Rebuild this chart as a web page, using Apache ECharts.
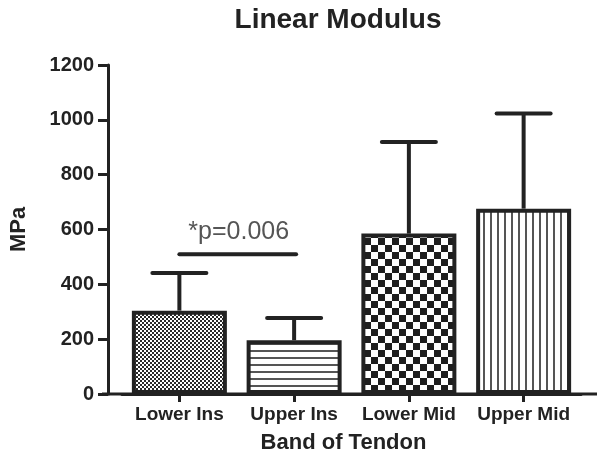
<!DOCTYPE html>
<html><head><meta charset="utf-8">
<script src="https://cdn.jsdelivr.net/npm/echarts@6/dist/echarts.min.js"></script>
<style>html,body{margin:0;padding:0;background:#fff}#c{width:600px;height:460px}</style>
</head><body><div id="c"></div>
<script>
// ---- data ----
const categories = ['Lower Ins', 'Upper Ins', 'Lower Mid', 'Upper Mid'];
const means = [304, 196, 585, 676];
const errTops = [441, 277, 919, 1023];
const yTicks = [0, 200, 400, 600, 800, 1000, 1200];
const sigFrom = 0, sigTo = 1, sigLevel = 510, sigText = '*p=0.006';

// ---- patterns ----
function pattern(kind) {
  const c = document.createElement('canvas');
  let g;
  if (kind === 'fine') {
    c.width = 4; c.height = 4; g = c.getContext('2d');
    g.fillStyle = '#fff'; g.fillRect(0, 0, 4, 4);
    g.fillStyle = '#2a2a2a'; g.fillRect(0, 0, 2, 2); g.fillRect(2, 2, 2, 2);
  } else if (kind === 'hlines') {
    c.width = 8; c.height = 7; g = c.getContext('2d');
    g.fillStyle = '#fff'; g.fillRect(0, 0, 8, 7);
    g.fillStyle = '#555'; g.fillRect(0, 0, 8, 2);
  } else if (kind === 'checker') {
    c.width = 14; c.height = 14; g = c.getContext('2d');
    g.fillStyle = '#fff'; g.fillRect(0, 0, 14, 14);
    g.fillStyle = '#1e1e1e'; g.fillRect(0, 0, 7, 7); g.fillRect(7, 7, 7, 7);
  } else {
    c.width = 7; c.height = 8; g = c.getContext('2d');
    g.fillStyle = '#fff'; g.fillRect(0, 0, 7, 8);
    g.fillStyle = '#555'; g.fillRect(0, 0, 2, 8);
  }
  return { image: c, repeat: 'repeat' };
}
const patterns = [pattern('fine'), pattern('hlines'), pattern('checker'), pattern('vlines')];

const dark = '#222';
const font = 'Arial, "Liberation Sans", sans-serif';
const gridLeft = 116, gridRight = 19, yOffset = 14;

const chart = echarts.init(document.getElementById('c'), null, { renderer: 'canvas' });
chart.setOption({
  animation: false,
  backgroundColor: '#fff',
  title: {
    text: 'Linear Modulus', left: 333, top: 1, textAlign: 'center',
    textStyle: { fontFamily: font, fontWeight: 'bold', fontSize: 28, color: dark }
  },
  grid: { left: gridLeft, right: gridRight, top: 65, bottom: 66 },
  xAxis: {
    type: 'category', data: categories,
    axisLine: { show: true, lineStyle: { color: dark, width: 3 } },
    axisTick: { show: true, alignWithLabel: true, length: 8, lineStyle: { color: dark, width: 3 } },
    axisLabel: { interval: 0, fontFamily: font, fontWeight: 'bold', fontSize: 19, color: dark, margin: 11 },
    name: 'Band of Tendon', nameLocation: 'middle', nameGap: 38,
    nameTextStyle: { fontFamily: font, fontWeight: 'bold', fontSize: 22, color: dark, padding: [0, 16, 0, 0] }
  },
  yAxis: {
    type: 'value', min: yTicks[0], max: yTicks[yTicks.length - 1], interval: 200,
    offset: yOffset,
    axisLine: { show: true, lineStyle: { color: dark, width: 3 } },
    axisTick: { show: true, length: 10, lineStyle: { color: dark, width: 3 } },
    axisLabel: { fontFamily: font, fontWeight: 'bold', fontSize: 20, color: dark, margin: 14, formatter: v => String(v) },
    splitLine: { show: false },
    name: 'MPa', nameLocation: 'middle', nameGap: 78, nameRotate: 90,
    nameTextStyle: { fontFamily: font, fontWeight: 'bold', fontSize: 22, color: dark }
  },
  series: [
    {
      type: 'bar', barWidth: 95,
      data: means.map((v, i) => ({
        value: v,
        itemStyle: { color: patterns[i], borderColor: dark, borderWidth: 4 }
      }))
    },
    {
      type: 'custom', z: 1,
      data: means.map((v, i) => [i, v, errTops[i]]),
      renderItem: function (params, api) {
        const b = api.coord([api.value(0), api.value(1)]);
        const t = api.coord([api.value(0), api.value(2)]);
        const st = { stroke: dark, lineWidth: 4 };
        return {
          type: 'group', children: [
            { type: 'line', shape: { x1: b[0], y1: b[1], x2: t[0], y2: t[1] }, style: st },
            { type: 'line', shape: { x1: t[0] - 27, y1: t[1], x2: t[0] + 27, y2: t[1] }, style: Object.assign({ lineCap: 'round' }, st) }
          ]
        };
      }
    },
    {
      type: 'custom', z: 3,
      data: [[sigFrom, sigTo, sigLevel]],
      renderItem: function (params, api) {
        const a = api.coord([api.value(0), api.value(2)]);
        const b = api.coord([api.value(1), api.value(2)]);
        return {
          type: 'group', children: [
            { type: 'line', shape: { x1: a[0], y1: a[1], x2: b[0] + 2, y2: b[1] }, style: { stroke: dark, lineWidth: 4, lineCap: 'round' } },
            { type: 'text', style: { text: sigText, x: (a[0] + b[0]) / 2 + 2, y: a[1] - 10, textAlign: 'center', textVerticalAlign: 'bottom', fontFamily: font, fontSize: 25, fill: '#555' } }
          ]
        };
      }
    }
  ]
});

// extend the x axis baseline left to the y axis and right past the last bar
const y0 = chart.convertToPixel({ yAxisIndex: 0 }, 0);
chart.setOption({
  graphic: [{
    type: 'line', z: 10,
    shape: { x1: gridLeft - yOffset, y1: y0, x2: 597, y2: y0 },
    style: { stroke: dark, lineWidth: 3 }
  }]
});
</script></body></html>
